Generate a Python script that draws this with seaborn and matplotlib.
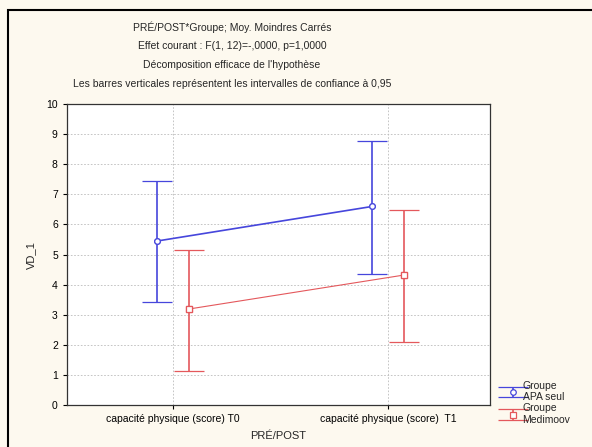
import matplotlib
matplotlib.use("Agg")
import matplotlib.pyplot as plt
from matplotlib.patches import Rectangle
import pandas as pd
import seaborn as sns

# valeurs
moments = ["capacité physique (score) T0", "capacité physique (score)  T1"]
groupes = ["Groupe\nAPA seul", "Groupe\nMedimoov"]
moy_apa = [5.45, 6.60]
ic_bas_apa = [3.42, 4.35]
ic_haut_apa = [7.44, 8.77]
moy_med = [3.19, 4.32]
ic_bas_med = [1.13, 2.09]
ic_haut_med = [5.15, 6.48]

couleurs = ["#4646dc", "#e4585c"]
decal = 0.074

sns.set_style("white")
plt.rcParams["font.family"] = ["Liberation Sans", "DejaVu Sans"]
plt.rcParams["font.size"] = 7.5

fig = plt.figure(figsize=(5.92, 4.47), dpi=100, facecolor="#fdf9ef")
ax = fig.add_axes([0.113, 0.094, 0.715, 0.673])
ax.set_facecolor("white")

df = pd.DataFrame({
    "x": [0, 1, 0, 1],
    "moy": moy_apa + moy_med,
    "bas": ic_bas_apa + ic_bas_med,
    "haut": ic_haut_apa + ic_haut_med,
    "groupe": [groupes[0]] * 2 + [groupes[1]] * 2,
})
df["xpos"] = df["x"] + df["groupe"].map({groupes[0]: -decal, groupes[1]: decal})

for g, c, lw in zip(groupes, couleurs, [1.2, 0.8]):
    sub = df[df["groupe"] == g]
    mk = "o" if g == groupes[0] else "s"
    sns.lineplot(data=sub, x="xpos", y="moy", ax=ax, color=c, lw=lw,
                 marker=mk, markersize=4, markerfacecolor="white",
                 markeredgecolor=c, markeredgewidth=0.9, legend=False)
    ax.errorbar(sub["xpos"], sub["moy"],
                yerr=[sub["moy"] - sub["bas"], sub["haut"] - sub["moy"]],
                fmt=mk, ms=4, mfc="white", mec=c, mew=0.9,
                ecolor=c, elinewidth=1.2, capsize=11, capthick=1.2, color=c,
                label=g, zorder=3)

ax.set_xlim(-0.493, 1.474)
ax.set_ylim(0, 10)
ax.set_yticks(range(0, 11))
ax.set_xticks([0, 1])
ax.set_xticklabels(moments)
ax.grid(True, color="#bcbcbc", ls=(0, (2, 2)), lw=0.6)
ax.tick_params(axis="both", which="both", direction="out", length=3, width=0.8,
               colors="black", labelsize=7.5, bottom=True, left=True)
for s in ax.spines.values():
    s.set_color("#333333")
    s.set_linewidth(0.9)
ax.set_xlabel("PRÉ/POST", fontsize=8, labelpad=5)
ax.set_ylabel("VD_1", fontsize=8, labelpad=7)

titres = ["PRÉ/POST*Groupe; Moy. Moindres Carrés",
          "Effet courant : F(1, 12)=-,0000, p=1,0000",
          "Décomposition efficace de l'hypothèse",
          "Les barres verticales représentent les intervalles de confiance à 0,95"]
for i, t in enumerate(titres):
    fig.text(0.392, 0.940 - i * 0.0425, t, ha="center", va="center", fontsize=7.5)

fig.legend(loc="upper left", bbox_to_anchor=(0.858, 0.148), frameon=False,
           handlelength=1.0, handletextpad=0.4, labelspacing=0.1,
           fontsize=7.5, borderaxespad=0, borderpad=0)

fig.patches.append(Rectangle((8 / 592, -0.1), 1.2, 1.1 - 10 / 447,
                             transform=fig.transFigure, fill=False,
                             ec="black", lw=1.5))

fig.savefig("out.png", dpi=100, facecolor=fig.get_facecolor())
